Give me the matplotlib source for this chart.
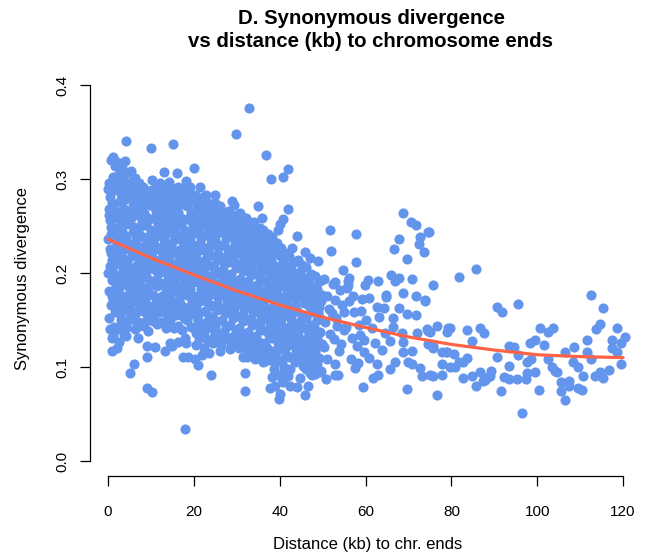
import matplotlib
matplotlib.use("Agg")
import matplotlib.pyplot as plt
import matplotlib.transforms as mtransforms
import numpy as np

plt.rcParams['font.family'] = ['Liberation Sans', 'DejaVu Sans']

# ---------------- data (distance kb, synonymous divergence) ----------------
core_0_10 = [
    (0.2,.296),(0.5,.281),(0.3,.262),(0.8,.249),(0.1,.236),(0.6,.221),(0.4,.207),(0.9,.193),(0.2,.181),(0.7,.166),
    (0.3,.152),(1.1,.302),(1.4,.288),(1.2,.271),(1.7,.258),(1.3,.243),(1.8,.229),(1.0,.214),(1.5,.199),(1.9,.186),
    (1.2,.172),(1.6,.158),(1.4,.143),(0.9,.131),(1.0,.117),(0.5,.256),(1.6,.314),(0.4,.226),(0.8,.320),(1.2,.323),
    (2.1,.318),(2.6,.305),(2.3,.291),(2.9,.277),(2.2,.264),(2.7,.251),(2.4,.238),(3.0,.223),(2.3,.211),(2.8,.197),
    (2.5,.184),(2.2,.169),(2.9,.156),(2.4,.142),(3.3,.312),(3.7,.297),(3.1,.284),(3.6,.269),(3.9,.256),(3.2,.244),
    (3.8,.231),(3.4,.216),(3.6,.203),(3.1,.189),(3.9,.176),(3.5,.161),(3.3,.148),(3.7,.134),(2.6,.127),(4.0,.319),
    (4.1,.306),(4.6,.292),(4.3,.279),(4.9,.266),(4.4,.252),(4.1,.239),(4.7,.226),(4.5,.213),(4.2,.198),(4.8,.185),
    (4.4,.171),(4.9,.158),(4.3,.145),(4.2,.133),(5.3,.309),(5.7,.298),(5.2,.284),(5.8,.271),(5.4,.258),(5.9,.244),
    (5.1,.231),(5.6,.218),(5.3,.205),(5.8,.191),(5.5,.178),(5.2,.164),(5.7,.151),
    (6.2,.301),(6.7,.289),(6.4,.275),(6.9,.262),(6.1,.249),(6.6,.236),(6.3,.222),(6.8,.209),(6.2,.196),(6.5,.182),
    (6.9,.169),(6.3,.156),(6.7,.143),(7.2,.296),(7.6,.281),(7.3,.268),(7.9,.255),(7.1,.242),(7.7,.228),(7.4,.215),
    (7.8,.201),(7.2,.188),(7.5,.174),(7.9,.161),(7.3,.148),(7.0,.131),
    (8.1,.292),(8.6,.278),(8.3,.264),(8.8,.251),(8.2,.238),(8.7,.224),(8.4,.211),(8.9,.197),(8.1,.184),(8.5,.171),
    (8.8,.157),(8.3,.144),(9.2,.287),(9.7,.272),(9.4,.259),(9.9,.246),(9.1,.232),(9.6,.219),(9.3,.205),(9.8,.192),
    (9.2,.178),(9.5,.165),(9.9,.151),(9.4,.138),
]

core_10_20 = [
    (10.2,.299),(10.7,.284),(10.4,.271),(10.9,.257),(10.1,.244),(10.6,.231),(10.3,.217),(10.8,.204),(10.2,.191),(10.5,.177),
    (10.9,.163),(10.4,.149),(11.3,.293),(11.8,.279),(11.1,.266),(11.6,.252),(11.4,.239),(11.9,.226),(11.2,.212),(11.7,.199),
    (11.5,.186),(11.1,.172),(11.8,.159),(11.3,.146),
    (12.1,.296),(12.6,.282),(12.3,.269),(12.8,.256),(12.2,.242),(12.7,.229),(12.4,.215),(12.9,.202),(12.1,.189),(12.5,.175),
    (12.8,.162),(12.3,.148),(13.0,.307),(13.6,.291),(13.2,.277),(13.8,.263),(13.4,.250),(13.1,.236),(13.7,.223),(13.3,.210),
    (13.9,.196),(13.5,.183),(13.2,.169),(13.7,.155),(13.4,.142),
    (14.2,.297),(14.7,.283),(14.4,.270),(14.9,.257),(14.1,.244),(14.6,.230),(14.3,.217),(14.8,.203),(14.2,.190),(14.5,.176),
    (14.9,.163),(14.4,.150),(15.3,.289),(15.8,.276),(15.1,.262),(15.6,.249),(15.4,.235),(15.9,.222),(15.2,.208),(15.7,.195),
    (15.5,.181),(15.1,.168),(15.8,.155),(15.3,.141),(16.0,.306),
    (16.2,.292),(16.7,.279),(16.4,.265),(16.9,.252),(16.1,.238),(16.6,.225),(16.3,.212),(16.8,.198),(16.2,.185),(16.5,.171),
    (16.9,.158),(16.4,.144),(17.3,.286),(17.8,.273),(17.1,.259),(17.6,.246),(17.4,.233),(17.9,.219),(17.2,.206),(17.7,.192),
    (17.5,.179),(17.1,.166),(17.8,.152),(17.3,.139),
    (18.1,.298),(18.6,.284),(18.3,.271),(18.8,.258),(18.2,.244),(18.7,.231),(18.4,.217),(18.9,.204),(18.1,.190),(18.5,.177),
    (18.8,.164),(18.3,.150),(19.2,.291),(19.7,.277),(19.4,.264),(19.9,.250),(19.1,.237),(19.6,.224),(19.3,.210),(19.8,.197),
    (19.2,.183),(19.5,.170),(19.9,.156),(19.4,.143),(20.0,.312),
]

core_20_30 = [
    (20.2,.283),(20.7,.270),(20.4,.257),(20.9,.243),(20.1,.230),(20.6,.216),(20.3,.203),(20.8,.190),(20.2,.176),(20.5,.163),
    (20.9,.149),(20.4,.136),(21.3,.277),(21.8,.264),(21.1,.250),(21.6,.237),(21.4,.224),(21.9,.210),(21.2,.197),(21.7,.183),
    (21.5,.170),(21.1,.157),(21.8,.143),(21.3,.130),(21.4,.291),
    (22.1,.281),(22.6,.268),(22.3,.254),(22.8,.241),(22.2,.227),(22.7,.214),(22.4,.201),(22.9,.187),(22.1,.174),(22.5,.160),
    (22.8,.147),(22.3,.134),(23.2,.275),(23.7,.262),(23.4,.248),(23.9,.235),(23.1,.221),(23.6,.208),(23.3,.195),(23.8,.181),
    (23.2,.168),(23.5,.154),(23.9,.141),(23.4,.128),(22.8,.283),
    (24.2,.272),(24.7,.259),(24.4,.245),(24.9,.232),(24.1,.219),(24.6,.205),(24.3,.192),(24.8,.178),(24.2,.165),(24.5,.152),
    (24.9,.138),(24.4,.125),(25.3,.268),(25.8,.254),(25.1,.241),(25.6,.228),(25.4,.214),(25.9,.201),(25.2,.187),(25.7,.174),
    (25.5,.161),(25.1,.147),(25.8,.134),(24.9,.283),(24.9,.275),
    (26.1,.271),(26.6,.257),(26.3,.244),(26.8,.230),(26.2,.217),(26.7,.203),(26.4,.190),(26.9,.177),(26.1,.163),(26.5,.150),
    (26.8,.136),(26.3,.123),(27.2,.264),(27.7,.250),(27.4,.237),(27.9,.224),(27.1,.210),(27.6,.197),(27.3,.183),(27.8,.170),
    (27.2,.157),(27.5,.143),(27.9,.130),
    (28.2,.266),(28.7,.253),(28.4,.239),(28.9,.226),(28.1,.212),(28.6,.199),(28.3,.186),(28.8,.172),(28.2,.159),(28.5,.145),
    (28.9,.132),(28.4,.119),(29.3,.272),(29.8,.259),(29.1,.246),(29.6,.232),(29.4,.219),(29.9,.205),(29.2,.192),(29.7,.178),
    (29.5,.165),(29.1,.152),(29.8,.138),(29.3,.125),(28.9,.277),
]

core_30_40 = [
    (30.1,.262),(30.6,.248),(30.3,.235),(30.8,.221),(30.2,.208),(30.7,.194),(30.4,.181),(30.9,.168),(30.1,.154),(30.5,.141),
    (30.8,.127),(31.3,.256),(31.8,.243),(31.1,.229),(31.6,.216),(31.4,.202),(31.9,.189),(31.2,.176),(31.7,.162),(31.5,.149),
    (31.1,.135),(31.8,.122),(30.8,.264),(31.9,.254),(33.1,.254),
    (32.2,.258),(32.7,.245),(32.4,.231),(32.9,.218),(32.1,.204),(32.6,.191),(32.3,.178),(32.8,.164),(32.2,.151),(32.5,.137),
    (32.9,.124),(32.4,.111),(33.3,.252),(33.8,.238),(33.1,.225),(33.6,.212),(33.4,.198),(33.9,.185),(33.2,.171),(33.7,.158),
    (33.5,.145),(33.1,.131),(33.8,.118),
    (34.1,.254),(34.6,.241),(34.3,.227),(34.8,.214),(34.2,.200),(34.7,.187),(34.4,.174),(34.9,.160),(34.1,.147),(34.5,.133),
    (34.8,.120),(35.3,.248),(35.8,.234),(35.1,.221),(35.6,.207),(35.4,.194),(35.9,.181),(35.2,.167),(35.7,.154),(35.5,.140),
    (35.1,.127),(35.8,.114),
    (36.2,.246),(36.7,.232),(36.4,.219),(36.9,.206),(36.1,.192),(36.6,.179),(36.3,.165),(36.8,.152),(36.2,.139),(36.5,.125),
    (36.9,.112),(37.3,.241),(37.8,.228),(37.1,.214),(37.6,.201),(37.4,.187),(37.9,.174),(37.2,.161),(37.7,.147),(37.5,.134),
    (37.1,.120),(37.8,.107),
    (38.1,.238),(38.6,.225),(38.3,.211),(38.8,.198),(38.2,.184),(38.7,.171),(38.4,.158),(38.9,.144),(38.1,.131),(38.5,.117),
    (38.8,.104),(39.3,.232),(39.8,.219),(39.1,.205),(39.6,.192),(39.4,.178),(39.9,.165),(39.2,.151),(39.7,.138),(39.5,.125),
    (39.1,.111),
]

core_40_60 = [
    (40.2,.227),(40.7,.213),(40.4,.200),(40.9,.186),(40.1,.173),(40.6,.160),(40.3,.146),(40.8,.133),(40.2,.119),(40.5,.106),
    (40.9,.093),(41.3,.221),(41.8,.207),(41.1,.194),(41.6,.180),(41.4,.167),(41.9,.154),(41.2,.140),(41.7,.127),(41.5,.113),
    (41.1,.100),
    (42.1,.218),(42.6,.205),(42.3,.191),(42.8,.178),(42.2,.164),(42.7,.151),(42.4,.137),(42.9,.124),(42.1,.111),(42.5,.098),
    (43.3,.212),(43.8,.199),(43.1,.185),(43.6,.172),(43.4,.158),(43.9,.145),(43.2,.131),(43.7,.118),(43.5,.105),
    (44.2,.214),(44.7,.201),(44.4,.187),(44.9,.174),(44.1,.160),(44.6,.147),(44.3,.134),(44.8,.120),(44.2,.107),
    (45.3,.208),(45.8,.195),(45.1,.181),(45.6,.168),(45.4,.154),(45.9,.141),(45.2,.128),(45.7,.114),(45.5,.101),
    (46.1,.206),(46.6,.192),(46.3,.179),(46.8,.165),(46.2,.152),(46.7,.139),(46.4,.125),(46.9,.112),(46.1,.098),
    (47.3,.199),(47.8,.186),(47.1,.172),(47.6,.159),(47.4,.145),(47.9,.132),(47.2,.119),(47.7,.105),(47.5,.092),
    (48.2,.197),(48.7,.183),(48.4,.170),(48.9,.157),(48.1,.143),(48.6,.130),(48.3,.116),(48.8,.103),
    (49.3,.191),(49.8,.177),(49.1,.164),(49.6,.151),(49.4,.137),(49.9,.124),(49.2,.110),(49.7,.096),
    (50.3,.194),(50.9,.176),(51.4,.162),(50.6,.148),(51.8,.135),(50.2,.121),(51.1,.108),(52.3,.188),(52.8,.171),(52.1,.157),
    (53.4,.144),(52.6,.130),(53.8,.117),(52.9,.103),(54.1,.182),(54.6,.166),(53.2,.152),(54.9,.139),(54.3,.124),(53.6,.092),
    (55.0,.158),(55.6,.184),(56.2,.170),(55.4,.143),(56.8,.131),(57.3,.158),(57.9,.122),(56.5,.108),(58.4,.145),(59.1,.172),
    (58.8,.134),(57.6,.099),(59.6,.116),(56.1,.195),
]

core_fill = [
    (0.0,.289),(1.0,.275),(0.6,.242),(1.3,.208),(0.0,.200),(0.9,.176),(0.5,.140),(1.7,.222),(0.2,.268),(1.8,.165),
    (2.0,.298),(3.0,.262),(2.5,.230),(3.4,.196),(2.0,.178),(3.0,.150),(2.7,.214),(3.8,.286),(2.3,.247),(3.2,.170),
    (4.0,.285),(5.0,.262),(4.5,.232),(5.4,.197),(4.0,.210),(5.0,.169),(4.6,.150),(5.6,.290),(4.3,.188),(5.9,.225),
    (6.0,.282),(7.0,.268),(6.5,.229),(7.4,.190),(6.0,.205),(7.0,.160),(6.6,.175),(7.6,.250),(6.3,.140),(7.8,.215),
    (8.0,.271),(9.0,.255),(8.5,.218),(9.4,.184),(8.0,.196),(9.0,.150),(8.6,.165),(9.6,.238),(8.3,.283),(9.8,.205),
    (10.0,.280),(11.0,.258),(10.5,.224),(11.4,.190),(10.0,.210),(11.0,.165),(10.6,.155),(11.6,.245),(10.3,.288),(11.8,.205),
    (12.0,.275),(13.0,.262),(12.5,.222),(13.4,.189),(12.0,.208),(13.0,.160),(12.6,.168),(13.6,.243),(12.3,.290),(13.8,.203),
    (14.0,.277),(15.0,.255),(14.5,.223),(15.4,.188),(14.0,.210),(15.0,.162),(14.6,.156),(15.6,.242),(14.3,.289),(15.8,.200),
    (16.0,.272),(17.0,.252),(16.5,.218),(17.4,.185),(16.0,.205),(17.0,.158),(16.6,.165),(17.6,.240),(16.3,.284),(17.8,.198),
    (18.0,.277),(19.0,.256),(18.5,.224),(19.4,.190),(18.0,.210),(19.0,.163),(18.6,.157),(19.6,.243),(18.3,.291),(19.8,.203),
    (20.0,.263),(21.0,.244),(20.5,.209),(21.4,.177),(20.0,.196),(21.0,.150),(20.6,.142),(21.6,.230),(20.3,.276),(21.8,.190),
    (22.0,.260),(23.0,.242),(22.5,.207),(23.4,.175),(22.0,.194),(23.0,.148),(22.6,.140),(23.6,.228),(22.3,.274),(23.8,.188),
    (24.0,.252),(25.0,.235),(24.5,.198),(25.4,.167),(24.0,.185),(25.0,.141),(24.6,.132),(25.6,.220),(24.3,.265),(25.8,.180),
    (26.0,.250),(27.0,.231),(26.5,.196),(27.4,.164),(26.0,.183),(27.0,.137),(26.6,.129),(27.6,.217),(26.3,.262),(27.8,.177),
    (28.0,.246),(29.0,.226),(28.5,.192),(29.4,.159),(28.0,.179),(29.0,.132),(28.6,.125),(29.6,.212),(28.3,.259),(29.8,.172),
    (30.0,.241),(31.0,.222),(30.5,.188),(31.4,.155),(30.0,.174),(31.0,.128),(30.6,.120),(31.6,.208),(30.3,.254),(31.8,.168),
    (32.0,.237),(33.0,.218),(32.5,.184),(33.4,.151),(32.0,.170),(33.0,.124),(32.6,.117),(33.6,.204),(32.3,.250),(33.8,.164),
    (34.0,.233),(35.0,.214),(34.5,.180),(35.4,.147),(34.0,.166),(35.0,.120),(34.6,.113),(35.6,.200),(34.3,.246),(35.8,.160),
    (36.0,.226),(37.0,.207),(36.5,.172),(37.4,.140),(36.0,.158),(37.0,.113),(36.6,.106),(37.6,.193),(36.3,.239),(37.8,.153),
    (38.0,.218),(39.0,.199),(38.5,.164),(39.4,.132),(38.0,.150),(39.0,.105),(38.6,.098),(39.6,.185),(38.3,.231),(39.8,.145),
    (40.0,.207),(41.0,.188),(40.5,.153),(41.4,.121),(40.0,.139),(41.0,.095),(40.6,.087),(41.6,.174),(40.3,.220),(41.8,.134),
    (42.0,.198),(43.0,.179),(42.5,.144),(43.4,.112),(42.0,.130),(43.0,.125),(42.6,.160),(43.6,.165),
    (44.0,.193),(45.0,.174),(44.5,.140),(45.4,.108),(44.0,.126),(45.0,.150),(44.6,.115),(45.6,.185),
    (46.0,.186),(47.0,.166),(46.5,.132),(47.4,.100),(46.0,.118),(47.0,.142),(46.6,.108),(47.6,.175),
    (48.0,.177),(49.0,.158),(48.5,.124),(49.4,.095),(48.0,.110),(49.0,.135),(48.6,.150),(49.6,.170),
]

upper_outliers = [
    (32.9,.376),(29.8,.348),(36.8,.326),(4.2,.340),(10.0,.333),(15.2,.337),(41.9,.311),(40.8,.302),(38.0,.300),
    (35.0,.271),(35.9,.259),(42.0,.268),(40.8,.257),(40.0,.252),(39.6,.246),(44.0,.239),(42.9,.227),(45.9,.222),
    (47.1,.216),(49.0,.213),(51.7,.246),(57.8,.242),(52.0,.223),(57.8,.212),(54.8,.203),(27.3,.265),(26.8,.257),
]

lower_outliers = [
    (18.0,.034),(9.1,.078),(10.3,.073),(5.1,.094),(6.1,.103),(2.1,.120),(1.2,.133),(2.3,.140),(4.2,.142),
    (24.0,.091),(9.1,.122),(11.0,.121),(9.1,.111),(13.2,.117),(14.9,.122),(14.5,.126),(16.3,.127),(18.0,.131),
    (18.2,.126),(17.5,.111),(18.6,.111),(20.3,.108),(21.0,.102),(22.0,.113),(23.5,.115),(22.4,.120),(20.5,.123),
    (31.9,.094),(31.9,.074),(39.9,.066),(40.1,.071),(37.7,.078),(38.9,.080),(40.8,.084),(42.4,.080),(44.1,.079),
    (46.0,.070),(46.6,.080),(38.2,.089),(40.1,.092),(41.9,.090),(44.8,.088),(47.1,.094),(48.2,.093),(29.1,.122),
    (26.1,.117),(31.5,.111),(34.3,.108),(36.2,.105),
]

mid_60_80 = [
    (68.8,.264),(70.6,.254),(71.8,.251),(74.6,.244),(72.7,.238),(72.5,.231),(73.7,.222),(67.8,.236),(66.7,.226),
    (69.7,.215),(66.0,.198),(67.8,.195),(66.9,.191),(70.9,.194),(75.8,.187),(60.6,.193),(62.9,.191),(59.9,.187),
    (55.9,.191),(55.9,.187),(52.9,.190),(64.8,.177),(64.8,.174),(68.8,.179),(71.8,.175),(73.9,.171),(60.8,.173),
    (62.7,.164),(67.8,.163),(69.7,.156),(71.8,.155),(76.7,.144),(79.3,.141),(49.9,.122),(50.8,.087),(52.9,.092),
    (59.4,.079),(69.7,.077),(76.7,.070),(61.8,.088),(62.9,.091),(65.7,.098),(66.9,.105),(69.9,.105),(70.9,.103),
    (72.7,.099),(73.2,.090),(75.1,.092),(68.8,.116),(70.9,.117),(75.8,.122),(77.9,.116),(79.0,.116),(74.6,.124),
    (74.4,.140),(75.1,.137),(68.8,.127),(68.5,.136),(72.0,.136),(66.4,.143),(60.0,.150),(61.5,.142),(63.2,.153),
    (64.5,.136),(62.1,.126),(58.9,.160),(65.8,.128),(63.8,.118),(60.9,.110),(58.2,.104),(64.3,.163),(66.5,.152),
    (57.1,.176),(59.7,.129),(62.6,.103),(74.8,.244),(73.9,.170),
]

tail_80_121 = [
    (85.8,.204),(81.8,.196),(112.6,.177),(115.4,.163),(90.7,.164),(91.8,.159),(95.6,.167),(74.6,.138),(79.0,.137),
    (79.7,.141),(83.7,.139),(84.8,.128),(86.7,.141),(87.6,.136),(100.7,.142),(102.6,.137),(103.7,.141),(99.5,.129),
    (98.3,.126),(101.6,.123),(113.8,.140),(114.7,.146),(118.6,.142),(111.7,.129),(117.4,.129),(120.5,.132),
    (119.6,.126),(117.4,.120),(118.6,.116),(108.6,.121),(106.5,.116),(111.7,.116),(112.6,.109),(93.5,.122),
    (94.6,.121),(95.6,.113),(90.7,.111),(75.8,.120),(78.8,.116),(80.6,.114),(82.7,.105),(83.7,.110),(81.8,.105),
    (80.8,.100),(79.7,.100),(77.9,.103),(93.5,.101),(97.5,.105),(98.5,.108),(102.6,.108),(108.4,.105),(109.6,.100),
    (110.7,.090),(116.6,.097),(114.5,.095),(113.5,.090),(115.4,.088),(119.6,.103),(103.5,.100),(104.2,.096),
    (104.7,.095),(99.5,.095),(97.5,.094),(97.4,.087),(95.3,.087),(93.4,.087),(92.3,.089),(89.2,.096),(88.9,.090),
    (88.6,.089),(87.9,.086),(87.4,.085),(86.7,.095),(84.8,.090),(82.7,.088),(85.7,.080),(75.6,.090),(77.7,.091),
    (91.6,.074),(100.5,.075),(105.6,.084),(107.4,.085),(105.6,.074),(107.4,.080),(106.5,.065),(109.6,.078),
    (110.5,.076),(96.5,.051),
]

# fitted trend
fit_x = [0, 10, 20, 30, 40, 50, 60, 70, 80, 90, 100, 110, 120]
fit_y = [.236, .216, .198, .181, .166, .153, .142, .132, .124, .118, .113, .111, .110]

x_ticks = [0, 20, 40, 60, 80, 100, 120]
y_ticks = [0.0, 0.1, 0.2, 0.3, 0.4]
y_tick_labels = ["0.0", "0.1", "0.2", "0.3", "0.4"]

title = "D. Synonymous divergence\nvs distance (kb) to chromosome ends"
x_label = "Distance (kb) to chr. ends"
y_label = "Synonymous divergence"

# ---------------- plot ----------------
pts = np.array(core_0_10 + core_10_20 + core_20_30 + core_30_40 + core_40_60 + core_fill
               + upper_outliers + lower_outliers + mid_60_80 + tail_80_121)

W, H = 645, 557
fig = plt.figure(figsize=(W / 100, H / 100), dpi=100)
ax = fig.add_axes([90/W, (H-476)/H, (W-90)/W, (476-70)/H])

ax.plot(pts[:, 0], pts[:, 1], 'o', color='#6495ED', markersize=7.3,
        markeredgewidth=0, linestyle='none', zorder=2)
ax.plot(fit_x, fit_y, color='#FF6347', lw=2.3, zorder=3, solid_capstyle='round')

ax.set_xlim(-4.2, 125.1)
ax.set_ylim(-0.016, 0.416)

for s in ['top', 'right']:
    ax.spines[s].set_visible(False)
ax.spines['left'].set_bounds(0, 0.4)
ax.spines['bottom'].set_bounds(0, 120)
for s in ['left', 'bottom']:
    ax.spines[s].set_linewidth(0.9)

ax.set_xticks(x_ticks)
ax.set_xticklabels([str(t) for t in x_ticks])
ax.set_yticks(y_ticks)
ax.set_yticklabels([])
ax.tick_params(axis='both', direction='out', length=7.2, width=0.9, labelsize=11, colors='black')
ax.tick_params(axis='x', pad=14)

# y tick labels (rotated, R style) placed explicitly left of the axis
ylab_tr = mtransforms.blended_transform_factory(fig.transFigure, ax.transData)
for v, lab in zip(y_ticks, y_tick_labels):
    ax.text(62 / W, v, lab, transform=ylab_tr, rotation=90, ha='center', va='center',
            rotation_mode='anchor', fontsize=11, clip_on=False)

ax.set_xlabel(x_label, fontsize=12, va='center')
ax.xaxis.set_label_coords(0.5, (476 - 545) / 406)
ax.set_ylabel(y_label, fontsize=12, va='center')
ax.yaxis.set_label_coords((23 - 90) / 555, (476 - 278) / 406)

fig.text(371/W, 1 - 30/H, title, ha='center', va='center', fontsize=14.7,
         fontweight='bold', linespacing=1.3)

fig.savefig("out.png", dpi=100)
